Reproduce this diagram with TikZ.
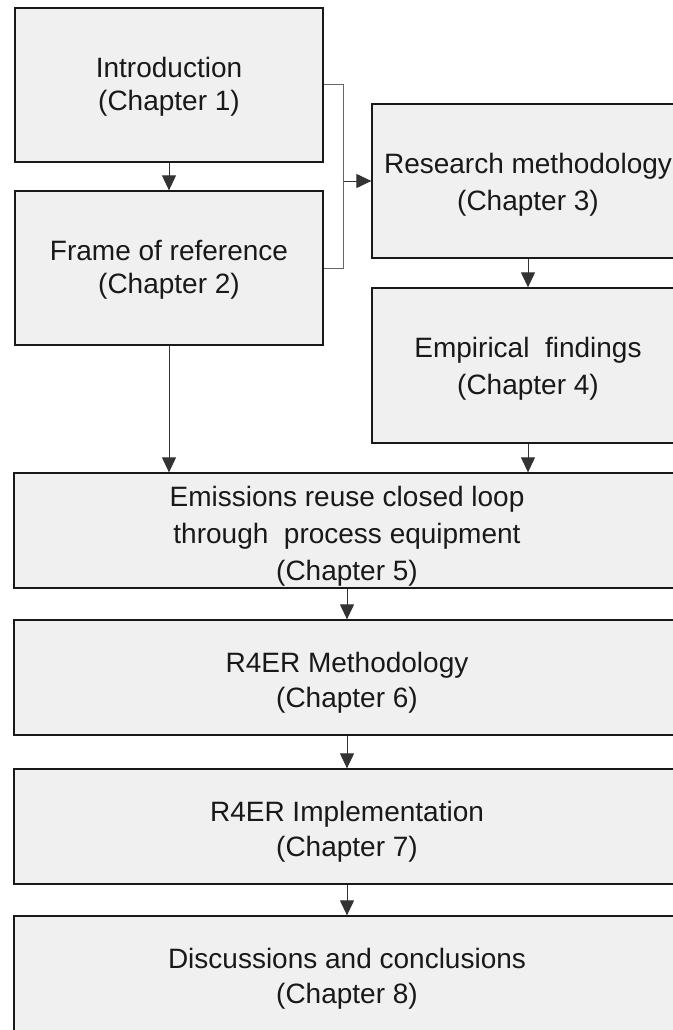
\documentclass[tikz,border=0pt]{standalone}
\usepackage{fontspec}
\setmainfont{Liberation Sans}
\usetikzlibrary{arrows.meta}
\newcommand{\pushdown}[1]{\rule{0pt}{#1}}

\begin{document}
\begin{tikzpicture}[
  x=1pt, y=-1pt,
  every node/.style={font=\fontsize{28}{35}\selectfont, align=center, inner sep=0pt},
  chap/.style={draw=black!90, line width=1.3pt, fill=black!6, text=black!90},
  tight/.style={font=\fontsize{28}{33}\selectfont},
  loose/.style={font=\fontsize{28}{37}\selectfont},
  flow/.style={-{Triangle[length=15pt, width=14pt]}, black!80, line width=1pt},
  brace/.style={black!60, line width=1pt},
]
  \useasboundingbox (0,0) rectangle (672,1030);
  % Nodes
  \node[chap, tight, minimum width=308pt, minimum height=154pt] (intro) at (169, 85) {\pushdown{24pt}Introduction\\(Chapter 1)};
  \node[chap, tight, minimum width=308pt, minimum height=154pt] (frame) at (169, 268) {\pushdown{24pt}Frame of reference\\(Chapter 2)};
  \node[chap, loose, minimum width=312pt, minimum height=154pt] (resm) at (528, 181) {\pushdown{27pt}Research methodology\\(Chapter 3)};
  \node[chap, loose, minimum width=312pt, minimum height=155pt] (empf) at (528, 365.5) {\pushdown{27pt}Empirical\ \ findings\\(Chapter 4)};
  \node[chap, loose, minimum width=666pt, minimum height=115pt] (emis) at (347, 530.5) {\pushdown{32pt}Emissions reuse closed loop\\through\ \ process equipment\\(Chapter 5)};
  \node[chap, minimum width=666pt, minimum height=115pt] (r4m) at (347, 677.5) {\pushdown{30pt}R4ER Methodology\\(Chapter 6)};
  \node[chap, minimum width=666pt, minimum height=115pt] (r4i) at (347, 826.5) {\pushdown{30pt}R4ER Implementation\\(Chapter 7)};
  \node[chap, minimum width=666pt, minimum height=115pt] (disc) at (347, 973.5) {\pushdown{30pt}Discussions and conclusions\\(Chapter 8)};
  % Bracket joining chapters 1 and 2
  \draw[brace] (intro.east) -- ++(20,0) coordinate (brk) |- (frame.east);
  \coordinate (brkmid) at (brk |- resm.west);
  % Edges
  \draw[flow] (intro) -- (frame);
  \draw[flow] (brkmid) -- (resm.west);
  \draw[flow] (resm) -- (empf);
  \draw[flow] (frame.south) -- (frame.south |- emis.north);
  \draw[flow] (empf.south) -- (empf.south |- emis.north);
  \draw[flow] (emis) -- (r4m);
  \draw[flow] (r4m) -- (r4i);
  \draw[flow] (r4i) -- (disc);
\end{tikzpicture}
\end{document}
